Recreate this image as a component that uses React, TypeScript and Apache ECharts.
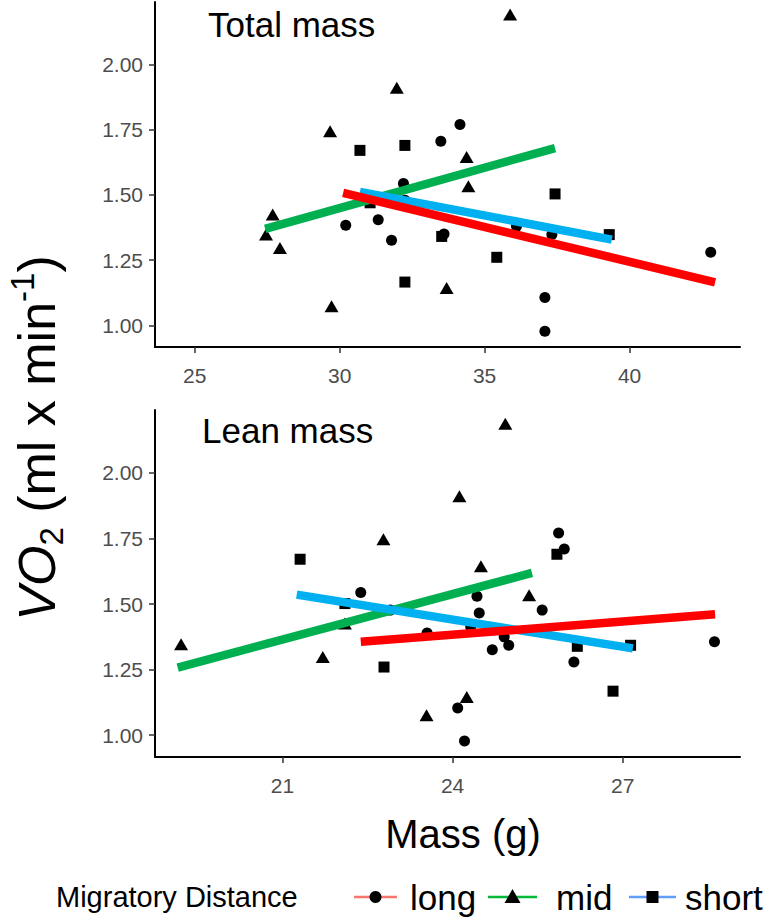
import { useEffect, useRef } from 'react';
import * as echarts from 'echarts';

const FONT = '"Liberation Sans", Arial, Helvetica, sans-serif';

// VO2 (ml/min) against total body mass (g), by migratory distance group
const totalLong: [number, number][] = [
  [30.21, 1.384], [31.33, 1.405], [31.79, 1.326], [32.2, 1.544], [32.25, 1.48],
  [33.49, 1.706], [33.6, 1.35], [34.15, 1.77], [36.1, 1.38], [37.08, 1.107],
  [37.08, 0.977], [37.32, 1.348], [42.8, 1.28],
];
const totalMid: [number, number][] = [
  [27.46, 1.348], [27.69, 1.425], [27.94, 1.297], [29.67, 1.744], [29.72, 1.073],
  [31.97, 1.911], [33.69, 1.143], [34.38, 1.646], [34.44, 1.533], [35.88, 2.192],
];
const totalShort: [number, number][] = [
  [30.7, 1.671], [31.05, 1.47], [32.25, 1.69], [32.25, 1.166], [33.52, 1.341],
  [35.42, 1.261], [37.43, 1.504], [39.3, 1.348],
];

// VO2 (ml/min) against lean mass (g)
const leanLong: [number, number][] = [
  [22.38, 1.544], [22.9, 1.477], [23.55, 1.39], [24.09, 1.104], [24.21, 0.978],
  [24.32, 1.413], [24.43, 1.53], [24.47, 1.466], [24.7, 1.326], [24.91, 1.375],
  [24.99, 1.343], [25.58, 1.477], [25.87, 1.771], [25.97, 1.71], [26.14, 1.279],
  [28.62, 1.356],
];
const leanMid: [number, number][] = [
  [19.21, 1.347], [21.71, 1.298], [22.1, 1.426], [22.78, 1.747], [23.54, 1.076],
  [24.12, 1.911], [24.25, 1.146], [24.5, 1.644], [24.93, 2.188], [25.35, 1.534],
];
const leanShort: [number, number][] = [
  [21.31, 1.671], [22.1, 1.502], [22.79, 1.26], [25.84, 1.69], [26.2, 1.339],
  [26.83, 1.168], [27.14, 1.343],
];

// Linear fits per group (start and end of each fitted line)
const totalFitLong: [number, number][] = [[30.12, 1.508], [42.95, 1.165]];
const totalFitMid: [number, number][] = [[27.43, 1.37], [37.43, 1.68]];
const totalFitShort: [number, number][] = [[30.7, 1.512], [39.39, 1.329]];
const leanFitLong: [number, number][] = [[22.38, 1.356], [28.63, 1.461]];
const leanFitMid: [number, number][] = [[19.15, 1.258], [25.4, 1.619]];
const leanFitShort: [number, number][] = [[21.25, 1.536], [27.18, 1.331]];

// Axis ticks
const vo2Ticks = [1, 1.25, 1.5, 1.75, 2];
const totalMassTicks = [25, 30, 35, 40];
const leanMassTicks = [21, 24, 27];

const groups = ['long', 'mid', 'short'];
const fitColors = ['#FF0000', '#00B050', '#00B0F0'];
const keyColors = ['#F8766D', '#00BA38', '#619CFF'];

const TICK_LABEL = { color: '#4D4D4D', fontSize: 21, fontFamily: FONT };

function xAxis(gridIndex: number, min: number, max: number, ticks: number[]) {
  return {
    type: 'value',
    gridIndex,
    min,
    max,
    axisLine: { show: true, onZero: false, lineStyle: { color: '#000', width: 2 } },
    axisTick: { show: true, customValues: ticks, length: 6, lineStyle: { color: '#333', width: 1.5 } },
    axisLabel: { ...TICK_LABEL, customValues: ticks, margin: 18 },
    splitLine: { show: false },
  };
}

function yAxis(gridIndex: number) {
  return {
    type: 'value',
    gridIndex,
    min: 0.917,
    max: 2.24,
    axisLine: { show: true, onZero: false, lineStyle: { color: '#000', width: 2 } },
    axisTick: { show: true, customValues: vo2Ticks, length: 6, lineStyle: { color: '#333', width: 1.5 } },
    axisLabel: {
      ...TICK_LABEL,
      customValues: vo2Ticks,
      margin: 12,
      formatter: (v: number) => v.toFixed(2),
    },
    splitLine: { show: false },
  };
}

function scatter(idx: number, name: string, data: [number, number][], symbol: string, size: number | number[]) {
  return {
    type: 'scatter',
    name,
    xAxisIndex: idx,
    yAxisIndex: idx,
    data,
    symbol,
    symbolSize: size,
    itemStyle: { color: '#000', opacity: 1 },
    z: 2,
  };
}

function fit(idx: number, name: string, data: [number, number][], color: string, z: number) {
  return {
    type: 'line',
    name,
    xAxisIndex: idx,
    yAxisIndex: idx,
    data,
    symbol: 'none',
    lineStyle: { color, width: 8.5, cap: 'butt' },
    z,
  };
}

const circle = { sym: 'circle', size: 11 };
const tri = { sym: 'triangle', size: [14, 12] };
const sq = { sym: 'rect', size: 11 };

export default function App() {
  const ref = useRef<HTMLDivElement>(null);

  useEffect(() => {
    if (!ref.current) return;
    const chart = echarts.init(ref.current, null, { renderer: 'svg' });

    const legendY = 897;
    const keys = [
      { x0: 354, x1: 397, tx: 410 },
      { x0: 488, x1: 537, tx: 556 },
      { x0: 629, x1: 676, tx: 685 },
    ];
    const legendGraphics: any[] = [
      {
        type: 'text',
        x: 56,
        y: legendY,
        style: { text: 'Migratory Distance', fill: '#000', fontSize: 29, fontFamily: FONT, verticalAlign: 'middle' },
      },
    ];
    keys.forEach((k, i) => {
      const cx = (k.x0 + k.x1) / 2;
      legendGraphics.push({
        type: 'line',
        shape: { x1: k.x0, y1: legendY, x2: k.x1, y2: legendY },
        style: { stroke: keyColors[i], lineWidth: 2.5 },
      });
      if (i === 0) {
        legendGraphics.push({ type: 'circle', shape: { cx, cy: legendY, r: 6 }, style: { fill: '#000' } });
      } else if (i === 1) {
        legendGraphics.push({
          type: 'polygon',
          shape: { points: [[cx - 8, legendY + 6], [cx + 8, legendY + 6], [cx, legendY - 8]] },
          style: { fill: '#000' },
        });
      } else {
        legendGraphics.push({ type: 'rect', shape: { x: cx - 6, y: legendY - 6, width: 12, height: 12 }, style: { fill: '#000' } });
      }
      legendGraphics.push({
        type: 'text',
        x: k.tx,
        y: legendY,
        style: { text: groups[i], fill: '#000', fontSize: 35, fontFamily: FONT, verticalAlign: 'middle' },
      });
    });

    chart.setOption({
      animation: false,
      backgroundColor: '#fff',
      grid: [
        { left: 155, top: 2, width: 585, height: 345 },
        { left: 155, top: 410, width: 585, height: 347 },
      ],
      xAxis: [
        xAxis(0, 23.63, 43.81, totalMassTicks),
        xAxis(1, 18.75, 29.07, leanMassTicks),
      ],
      yAxis: [yAxis(0), yAxis(1)],
      series: [
        scatter(0, groups[0], totalLong, circle.sym, circle.size),
        scatter(0, groups[1], totalMid, tri.sym, tri.size),
        scatter(0, groups[2], totalShort, sq.sym, sq.size),
        fit(0, groups[1], totalFitMid, fitColors[1], 3),
        fit(0, groups[2], totalFitShort, fitColors[2], 4),
        fit(0, groups[0], totalFitLong, fitColors[0], 5),
        scatter(1, groups[0], leanLong, circle.sym, circle.size),
        scatter(1, groups[1], leanMid, tri.sym, tri.size),
        scatter(1, groups[2], leanShort, sq.sym, sq.size),
        fit(1, groups[1], leanFitMid, fitColors[1], 3),
        fit(1, groups[2], leanFitShort, fitColors[2], 4),
        fit(1, groups[0], leanFitLong, fitColors[0], 5),
      ],
      graphic: [
        {
          type: 'text',
          x: 208,
          y: 24,
          style: { text: 'Total mass', fill: '#000', fontSize: 35, fontFamily: FONT, verticalAlign: 'middle' },
        },
        {
          type: 'text',
          x: 202,
          y: 430,
          style: { text: 'Lean mass', fill: '#000', fontSize: 35, fontFamily: FONT, verticalAlign: 'middle' },
        },
        {
          type: 'text',
          x: 463,
          y: 834,
          style: { text: 'Mass (g)', fill: '#000', fontSize: 40, fontFamily: FONT, align: 'center', verticalAlign: 'middle' },
        },
        {
          type: 'text',
          x: 37,
          y: 438,
          rotation: Math.PI / 2,
          style: {
            text: '{it|VO}{sub|2}{n| (ml x min}{sup|-1}{n|)}',
            align: 'center',
            verticalAlign: 'middle',
            fill: '#000',
            fontFamily: FONT,
            rich: {
              it: { fontSize: 52, fontStyle: 'italic', lineHeight: 62, fontFamily: FONT, verticalAlign: 'middle' },
              n: { fontSize: 52, lineHeight: 62, fontFamily: FONT, verticalAlign: 'middle' },
              sub: { fontSize: 33, lineHeight: 35, fontFamily: FONT, verticalAlign: 'bottom' },
              sup: { fontSize: 33, lineHeight: 35, fontFamily: FONT, verticalAlign: 'top' },
            },
          },
        },
        ...legendGraphics,
      ],
    });

    return () => chart.dispose();
  }, []);

  return (
    <div
      ref={ref}
      style={{ position: 'fixed', left: 0, top: 0, width: 765, height: 917, background: '#fff' }}
    />
  );
}
